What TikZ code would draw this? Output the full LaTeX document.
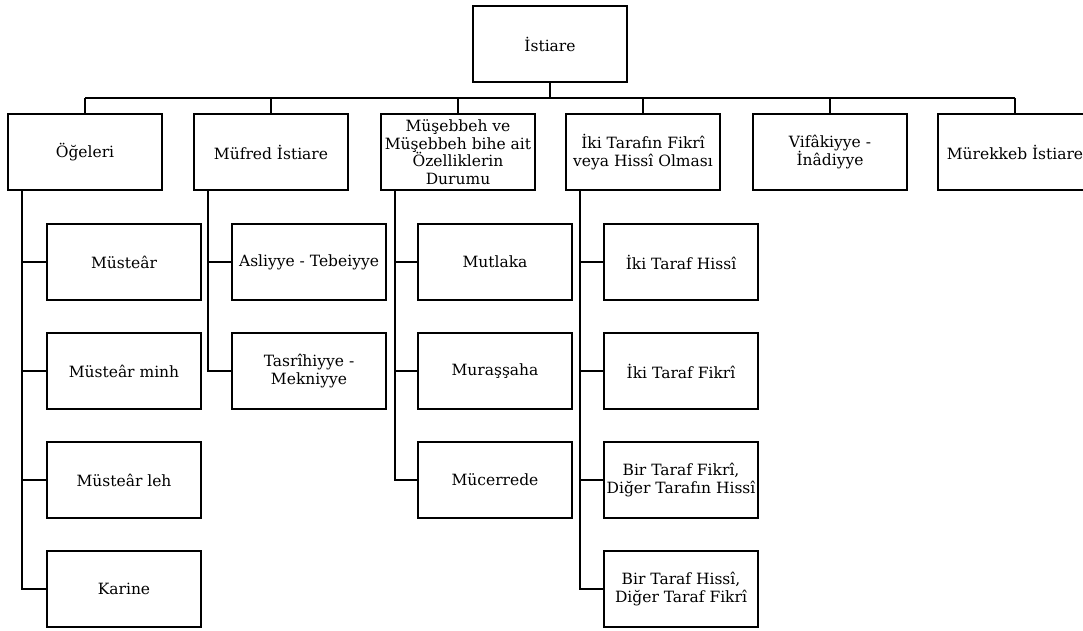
\documentclass[tikz,border=0pt]{standalone}
\usepackage{fontspec}
\setmainfont{DejaVu Serif}
\usetikzlibrary{calc}
\begin{document}
\begin{tikzpicture}[x=1pt,y=-1pt,
  box/.style={draw=black, line width=2pt, minimum width=154pt, minimum height=76pt,
    inner sep=0pt, align=center, font=\fontsize{15.5}{17.5}\selectfont},
  link/.style={draw=black, line width=2pt, line join=miter}]
\useasboundingbox (0,0) rectangle (1083,631);

% root
\node[box] (root) at (550,44) {İstiare};

% first level
\node[box] (oge) at (85,152) {Öğeleri};
\node[box] (muf) at (271,152) {Müfred İstiare};
\node[box] (mus) at (458,152) {Müşebbeh ve\\Müşebbeh bihe ait\\Özelliklerin\\Durumu};
\node[box] (iki) at (643,152) {İki Tarafın Fikrî\\veya Hissî Olması};
\node[box] (vif) at (830,152) {Vifâkiyye -\\İnâdiyye};
\node[box] (mur) at (1015,152) {Mürekkeb İstiare};

% children of Öğeleri
\node[box] (oa) at (124,262) {Müsteâr};
\node[box] (ob) at (124,371) {Müsteâr minh};
\node[box] (oc) at (124,480) {Müsteâr leh};
\node[box] (od) at (124,589) {Karine};

% children of Müfred İstiare
\node[box] (ma) at (309,262) {Asliyye - Tebeiyye};
\node[box] (mb) at (309,371) {Tasrîhiyye -\\Mekniyye};

% children of Müşebbeh ...
\node[box] (sa) at (495,262) {Mutlaka};
\node[box] (sb) at (495,371) {Muraşşaha};
\node[box] (sc) at (495,480) {Mücerrede};

% children of İki Tarafın ...
\node[box] (ia) at (681,262) {İki Taraf Hissî};
\node[box] (ib) at (681,371) {İki Taraf Fikrî};
\node[box] (ic) at (681,480) {Bir Taraf Fikrî,\\Diğer Tarafın Hissî};
\node[box] (id) at (681,589) {Bir Taraf Hissî,\\Diğer Taraf Fikrî};

% horizontal bus under the root
\coordinate (bus) at (550,98);
\draw[link] (root.south) -- (root.south |- bus);
\draw[link] (oge.north |- bus) -- (mur.north |- bus);
\foreach \n in {oge,muf,mus,iki,vif,mur}
  \draw[link] (\n.north |- bus) -- (\n.north);

% vertical rails with branches
\coordinate (railo) at ($(oge.south west)+(15,0)$);
\coordinate (railm) at ($(muf.south west)+(15,0)$);
\coordinate (rails) at ($(mus.south west)+(15,0)$);
\coordinate (raili) at ($(iki.south west)+(15,0)$);

\draw[link] (railo) |- (od.west);
\foreach \k in {oa,ob,oc} \draw[link] (railo |- \k.west) -- (\k.west);
\draw[link] (railm) |- (mb.west);
\draw[link] (railm |- ma.west) -- (ma.west);
\draw[link] (rails) |- (sc.west);
\foreach \k in {sa,sb} \draw[link] (rails |- \k.west) -- (\k.west);
\draw[link] (raili) |- (id.west);
\foreach \k in {ia,ib,ic} \draw[link] (raili |- \k.west) -- (\k.west);
\end{tikzpicture}
\end{document}
